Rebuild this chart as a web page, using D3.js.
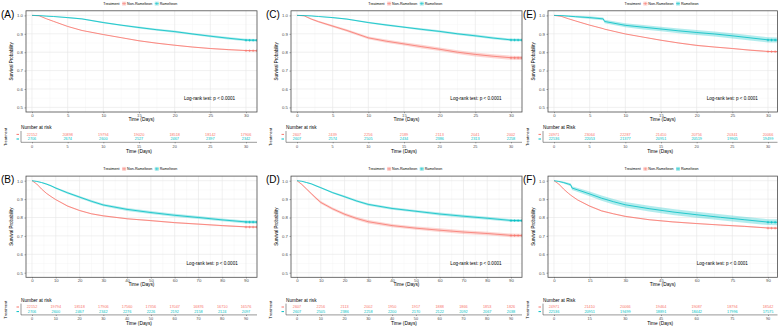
<!DOCTYPE html>
<html>
<head>
<meta charset="utf-8">
<script src="https://cdn.jsdelivr.net/npm/d3@7"></script>
<style>
  body { margin: 0; background: #fff; }
  svg { display: block; font-family: "Liberation Sans", Arial, sans-serif; }
</style>
</head>
<body>
<svg id="chart" width="778" height="331"></svg>
<script>
// ---- data ----
const groups = ['Non-Ramelteon', 'Ramelteon'];
const yTicks = [0.5, 0.6, 0.7, 0.8, 0.9, 1.0];
const ticks30 = [0, 5, 10, 15, 20, 25, 30];
const ticks90 = [0, 10, 20, 30, 40, 50, 60, 70, 80, 90];
const ticks90F = [0, 15, 30, 45, 60, 75, 90];
const censor30 = [30, 30.5, 31, 31.5];
const censor90 = [90, 91.5, 93, 94.5];

const time30 = [0, 1, 2, 3, 5, 7, 10, 12.5, 15, 17.5, 20, 22.5, 25, 27.5, 30, 31.5];
const time90 = [0, 2, 4, 6, 8, 10, 15, 20, 25, 30, 40, 50, 60, 70, 80, 90, 94.5];
const timeE = [0, 1, 2, 3, 5, 6.9, 7.1, 10, 12.5, 15, 17.5, 20, 22.5, 25, 27.5, 30, 31.5];
const timeF = [0, 2, 4, 6, 7, 7.6, 10, 15, 20, 25, 30, 40, 50, 60, 70, 80, 90, 94.5];

const nonA = [1, 0.998, 0.982, 0.968, 0.94, 0.918, 0.896, 0.879, 0.862, 0.849, 0.838, 0.828, 0.82, 0.814, 0.809, 0.808];
const ramA = [1, 0.999, 0.996, 0.994, 0.988, 0.981, 0.961, 0.947, 0.934, 0.922, 0.912, 0.899, 0.887, 0.876, 0.866, 0.865];
const nonCiA = [0, 0.001, 0.001, 0.002, 0.002, 0.002, 0.002, 0.002, 0.003, 0.003, 0.003, 0.003, 0.003, 0.003, 0.003, 0.003];
const ramCiA = [0, 0.001, 0.002, 0.002, 0.003, 0.003, 0.004, 0.004, 0.005, 0.005, 0.006, 0.006, 0.006, 0.007, 0.007, 0.007];

const nonB = [1, 0.982, 0.955, 0.932, 0.914, 0.897, 0.862, 0.838, 0.82, 0.809, 0.793, 0.783, 0.772, 0.764, 0.756, 0.749, 0.748];
const ramB = [1, 0.996, 0.99, 0.982, 0.972, 0.96, 0.934, 0.911, 0.888, 0.868, 0.844, 0.827, 0.812, 0.8, 0.787, 0.776, 0.775];
const nonCiB = [0, 0.001, 0.002, 0.002, 0.002, 0.002, 0.003, 0.003, 0.003, 0.003, 0.003, 0.003, 0.003, 0.003, 0.003, 0.003, 0.003];
const ramCiB = [0, 0.002, 0.003, 0.004, 0.004, 0.005, 0.006, 0.006, 0.007, 0.007, 0.008, 0.008, 0.008, 0.008, 0.008, 0.008, 0.008];

const nonC = [1, 0.998, 0.98, 0.966, 0.942, 0.918, 0.878, 0.86, 0.845, 0.83, 0.816, 0.8, 0.788, 0.778, 0.77, 0.769];
const ramC = [1, 0.999, 0.997, 0.994, 0.988, 0.98, 0.961, 0.948, 0.936, 0.924, 0.913, 0.9, 0.889, 0.877, 0.867, 0.866];
const nonCiC = [0, 0.002, 0.004, 0.005, 0.006, 0.007, 0.008, 0.009, 0.009, 0.01, 0.01, 0.01, 0.011, 0.011, 0.011, 0.011];
const ramCiC = [0, 0.001, 0.002, 0.002, 0.003, 0.003, 0.004, 0.005, 0.005, 0.006, 0.006, 0.006, 0.007, 0.007, 0.007, 0.007];

const nonD = [1, 0.98, 0.955, 0.93, 0.905, 0.882, 0.847, 0.818, 0.795, 0.777, 0.756, 0.742, 0.731, 0.721, 0.713, 0.703, 0.702];
const ramD = [1, 0.997, 0.99, 0.983, 0.972, 0.962, 0.935, 0.913, 0.89, 0.871, 0.849, 0.834, 0.819, 0.807, 0.796, 0.784, 0.783];
const nonCiD = [0, 0.003, 0.004, 0.005, 0.006, 0.007, 0.008, 0.008, 0.009, 0.009, 0.009, 0.009, 0.01, 0.01, 0.01, 0.01, 0.01];
const ramCiD = [0, 0.002, 0.003, 0.003, 0.004, 0.004, 0.005, 0.006, 0.006, 0.007, 0.007, 0.007, 0.008, 0.008, 0.008, 0.008, 0.008];

const nonE = [1, 0.995, 0.982, 0.97, 0.947, 0.928, 0.925, 0.899, 0.882, 0.865, 0.85, 0.837, 0.828, 0.82, 0.811, 0.804, 0.803];
const ramE = [1, 0.999, 0.996, 0.993, 0.988, 0.981, 0.967, 0.946, 0.936, 0.926, 0.916, 0.907, 0.899, 0.889, 0.878, 0.867, 0.866];
const nonCiE = [0, 0.001, 0.001, 0.002, 0.002, 0.002, 0.002, 0.002, 0.002, 0.003, 0.003, 0.003, 0.003, 0.003, 0.003, 0.003, 0.003];
const ramCiE = [0, 0.002, 0.004, 0.005, 0.007, 0.008, 0.01, 0.011, 0.012, 0.012, 0.013, 0.013, 0.013, 0.014, 0.014, 0.014, 0.014];

const nonF = [1, 0.982, 0.955, 0.932, 0.922, 0.916, 0.895, 0.862, 0.836, 0.82, 0.806, 0.788, 0.776, 0.767, 0.759, 0.752, 0.743, 0.742];
const ramF = [1, 0.996, 0.99, 0.982, 0.978, 0.96, 0.95, 0.928, 0.905, 0.886, 0.869, 0.848, 0.83, 0.815, 0.801, 0.788, 0.775, 0.774];
const nonCiF = [0, 0.001, 0.002, 0.002, 0.002, 0.002, 0.002, 0.003, 0.003, 0.003, 0.003, 0.003, 0.003, 0.003, 0.003, 0.003, 0.003, 0.003];
const ramCiF = [0, 0.003, 0.005, 0.007, 0.008, 0.01, 0.011, 0.013, 0.014, 0.015, 0.015, 0.016, 0.016, 0.016, 0.016, 0.016, 0.016, 0.016];

// number at risk
const riskNonA = [22152, 20898, 19794, 19020, 18518, 18142, 17906];
const riskRamA = [2706, 2674, 2600, 2527, 2467, 2397, 2342];
const riskNonB = [22152, 19794, 18518, 17906, 17560, 17356, 17047, 16876, 16710, 16576];
const riskRamB = [2706, 2600, 2467, 2342, 2276, 2226, 2192, 2158, 2124, 2097];
const riskNonC = [2607, 2439, 2256, 2189, 2113, 2041, 2002];
const riskRamC = [2607, 2574, 2505, 2434, 2386, 2313, 2258];
const riskNonD = [2607, 2256, 2113, 2002, 1950, 1917, 1888, 1866, 1853, 1826];
const riskRamD = [2607, 2505, 2386, 2258, 2200, 2170, 2122, 2092, 2067, 2038];
const riskNonE = [24971, 23064, 22287, 21410, 20756, 20341, 20066];
const riskRamE = [22536, 22053, 21377, 20951, 20519, 19905, 19499];
const riskNonF = [24971, 21410, 20066, 19464, 19087, 18794, 18542];
const riskRamF = [22536, 20951, 19499, 18891, 18442, 17996, 17575];

const panels = [
  { tag: '(A)', col: 0, row: 0, time: time30, non: nonA, ram: ramA, nonCi: nonCiA, ramCi: ramCiA, ticks: ticks30, censor: censor30, riskNon: riskNonA, riskRam: riskRamA, riskTitle: 'Number at risk', lrX: 21.3 },
  { tag: '(B)', col: 0, row: 1, time: time90, non: nonB, ram: ramB, nonCi: nonCiB, ramCi: ramCiB, ticks: ticks90, censor: censor90, riskNon: riskNonB, riskRam: riskRamB, riskTitle: 'Number at risk', lrX: 65 },
  { tag: '(C)', col: 1, row: 0, time: time30, non: nonC, ram: ramC, nonCi: nonCiC, ramCi: ramCiC, ticks: ticks30, censor: censor30, riskNon: riskNonC, riskRam: riskRamC, riskTitle: 'Number at risk', lrX: 21.5 },
  { tag: '(D)', col: 1, row: 1, time: time90, non: nonD, ram: ramD, nonCi: nonCiD, ramCi: ramCiD, ticks: ticks90, censor: censor90, riskNon: riskNonD, riskRam: riskRamD, riskTitle: 'Number at risk', lrX: 64.5 },
  { tag: '(E)', col: 2, row: 0, time: timeE, non: nonE, ram: ramE, nonCi: nonCiE, ramCi: ramCiE, ticks: ticks30, censor: censor30, riskNon: riskNonE, riskRam: riskRamE, riskTitle: 'Number at Risk', lrX: 21.4 },
  { tag: '(F)', col: 2, row: 1, time: timeF, non: nonF, ram: ramF, nonCi: nonCiF, ramCi: ramCiF, ticks: ticks90F, censor: censor90, riskNon: riskNonF, riskRam: riskRamF, riskTitle: 'Number at Risk', lrX: 60 }
];

// ---- layout ----
const colors = { 'Non-Ramelteon': '#F8766D', 'Ramelteon': '#00BFC4' };
const colX0 = [32, 297, 554];
const span = 214;
// plot part shared by both rows (shifted by oy), risk table anchored per row
const lay = { legend: 4.6, tag: 17.8, top: 10.8, bottom: 112 };
const rows = [
  { oy: 0, nar: 129 },
  { oy: 165.3, nar: 301.6 }
];
const riskOff = { r1: 6.7, r2: 11.3, axis: 13.3, rTick: 18.6, rTitle: 23.7 };

const svg = d3.select('#chart');

panels.forEach(drawPanel);

function drawPanel(p, i) {
  const R = rows[p.row];
  const L = {};
  Object.keys(lay).forEach(k => { L[k] = lay[k] + R.oy; });
  L.nar = R.nar;
  Object.keys(riskOff).forEach(k => { L[k] = R.nar + riskOff[k]; });

  const x0 = colX0[p.col];
  const tmax = d3.max(p.ticks);
  const x = d3.scaleLinear().domain([0, tmax]).range([x0, x0 + span]);
  const y = d3.scaleLinear().domain([0.475, 1.025]).range([L.bottom, L.top]);
  const left = x0 - 6, right = Math.min(x0 + span + 11, 777.5);

  const g = svg.append('g');

  // panel tag
  g.append('text')
    .attr('x', x0 - 31).attr('y', L.tag)
    .attr('font-size', 10).attr('fill', '#000')
    .text(p.tag);

  // grid
  const step = p.ticks[1] - p.ticks[0];
  const minorX = p.ticks.map(t => t + step / 2).filter(t => x(t) < right);
  g.append('g').selectAll('line').data(minorX).join('line')
    .attr('x1', d => x(d)).attr('x2', d => x(d))
    .attr('y1', L.top).attr('y2', L.bottom)
    .attr('stroke', '#f2f2f2').attr('stroke-width', 0.4);
  g.append('g').selectAll('line').data(yTicks.slice(0, -1).map(v => v + 0.05)).join('line')
    .attr('x1', left).attr('x2', right)
    .attr('y1', d => y(d)).attr('y2', d => y(d))
    .attr('stroke', '#f2f2f2').attr('stroke-width', 0.4);
  g.append('g').selectAll('line').data(p.ticks).join('line')
    .attr('x1', d => x(d)).attr('x2', d => x(d))
    .attr('y1', L.top).attr('y2', L.bottom)
    .attr('stroke', '#e6e6e6').attr('stroke-width', 0.6);
  g.append('g').selectAll('line').data(yTicks).join('line')
    .attr('x1', left).attr('x2', right)
    .attr('y1', d => y(d)).attr('y2', d => y(d))
    .attr('stroke', '#e6e6e6').attr('stroke-width', 0.6);

  // curves
  const clipId = 'clip' + i;
  g.append('clipPath').attr('id', clipId)
    .append('rect').attr('x', left).attr('y', L.top)
    .attr('width', right - left).attr('height', L.bottom - L.top);
  const plot = g.append('g').attr('clip-path', `url(#${clipId})`);

  const series = [
    { name: groups[0], s: p.non, ci: p.nonCi },
    { name: groups[1], s: p.ram, ci: p.ramCi }
  ];
  series.forEach(se => {
    const pts = p.time.map((t, k) => ({ t, s: se.s[k], c: se.ci[k] }));
    plot.append('path')
      .datum(pts)
      .attr('d', d3.area().x(d => x(d.t)).y0(d => y(d.s - d.c)).y1(d => y(d.s + d.c)))
      .attr('fill', colors[se.name]).attr('fill-opacity', 0.3);
  });
  series.forEach(se => {
    const pts = p.time.map((t, k) => ({ t, s: se.s[k] }));
    plot.append('path')
      .datum(pts)
      .attr('d', d3.line().x(d => x(d.t)).y(d => y(d.s)))
      .attr('fill', 'none').attr('stroke', colors[se.name]).attr('stroke-width', 0.8);
    const last = se.s[se.s.length - 1];
    plot.append('g').selectAll('path').data(p.censor).join('path')
      .attr('d', d => `M${x(d) - 1.3},${y(last)}h2.6M${x(d)},${y(last) - 1.3}v2.6`)
      .attr('stroke', colors[se.name]).attr('stroke-width', 0.6);
  });

  // panel border
  g.append('rect')
    .attr('x', left).attr('y', L.top)
    .attr('width', right - left).attr('height', L.bottom - L.top)
    .attr('fill', 'none').attr('stroke', '#4d4d4d').attr('stroke-width', 0.8);

  // axes
  const xAxis = g.append('g')
    .attr('transform', `translate(0,${L.bottom})`)
    .call(d3.axisBottom(x).tickValues(p.ticks).tickSize(1.2).tickPadding(0.6));
  const yAxis = g.append('g')
    .attr('transform', `translate(${left},0)`)
    .call(d3.axisLeft(y).tickValues(yTicks).tickFormat(d3.format('.1f')).tickSize(1.5).tickPadding(1.5));
  [xAxis, yAxis].forEach(a => {
    a.select('.domain').remove();
    a.selectAll('line').attr('stroke', '#4d4d4d').attr('stroke-width', 0.5);
    a.selectAll('text').attr('font-size', 4.3).attr('fill', '#4d4d4d').attr('font-family', null);
  });

  g.append('text')
    .attr('x', (left + right) / 2).attr('y', L.bottom + 8.8)
    .attr('text-anchor', 'middle').attr('font-size', 4.8)
    .text('Time (Days)');
  g.append('text')
    .attr('transform', `translate(${x0 - 19},${(L.top + L.bottom) / 2}) rotate(-90)`)
    .attr('text-anchor', 'middle').attr('font-size', 4.5)
    .text('Survival Probability');

  g.append('text')
    .attr('x', x(p.lrX)).attr('y', y(0.54))
    .attr('font-size', 4.6)
    .text('Log-rank test: p < 0.0001');

  // legend
  const lg = g.append('g').attr('font-size', 3.6);
  const lt = lg.append('text').attr('x', 0).attr('y', 0).text('Treatment');
  let cx = lt.node().getComputedTextLength() + 2.5;
  groups.forEach(name => {
    const c = colors[name];
    lg.append('rect').attr('x', cx).attr('y', -3).attr('width', 4).attr('height', 4)
      .attr('fill', c).attr('fill-opacity', 0.3);
    lg.append('path').attr('d', `M${cx},-1h4M${cx + 2},-2.3v2.6`)
      .attr('stroke', c).attr('stroke-width', 0.5);
    const t = lg.append('text').attr('x', cx + 5).attr('y', 0).text(name);
    cx += 5 + t.node().getComputedTextLength() + 2.5;
  });
  lg.attr('transform', `translate(${(left + right) / 2 - cx / 2},${L.legend})`);

  // risk table
  const rLeft = x0 - 11;
  g.append('text')
    .attr('x', rLeft).attr('y', L.nar)
    .attr('font-size', 4.7).text(p.riskTitle);
  const rowsData = [
    { name: groups[0], v: p.riskNon, y: L.r1 },
    { name: groups[1], v: p.riskRam, y: L.r2 }
  ];
  rowsData.forEach(r => {
    g.append('g').selectAll('text').data(r.v).join('text')
      .attr('x', (d, k) => x(p.ticks[k])).attr('y', r.y)
      .attr('text-anchor', 'middle').attr('font-size', 3.8)
      .attr('fill', colors[r.name])
      .text(d => d);
    g.append('line')
      .attr('x1', rLeft - 4.5).attr('x2', rLeft - 2)
      .attr('y1', r.y - 1.3).attr('y2', r.y - 1.3)
      .attr('stroke', colors[r.name]).attr('stroke-width', 1);
  });
  g.append('line')
    .attr('x1', rLeft).attr('x2', rLeft)
    .attr('y1', L.r1 - 4.7).attr('y2', L.axis)
    .attr('stroke', '#333').attr('stroke-width', 0.5);
  const rAxis = g.append('g')
    .attr('transform', `translate(0,${L.axis})`)
    .call(d3.axisBottom(x).tickValues(p.ticks).tickSize(1).tickFormat(() => ''));
  rAxis.select('.domain')
    .attr('d', `M${rLeft},0H${right}`).attr('stroke', '#333').attr('stroke-width', 0.5);
  rAxis.selectAll('line').attr('stroke', '#333').attr('stroke-width', 0.5);
  g.append('g').selectAll('text').data(p.ticks).join('text')
    .attr('x', d => x(d)).attr('y', L.rTick)
    .attr('text-anchor', 'middle').attr('font-size', 3.8).attr('fill', '#4d4d4d')
    .text(d => d);
  g.append('text')
    .attr('x', (rLeft + right) / 2).attr('y', L.rTitle)
    .attr('text-anchor', 'middle').attr('font-size', 4.8)
    .text('Time (Days)');
  g.append('text')
    .attr('transform', `translate(${x0 - 25},${(L.r1 + L.r2) / 2 - 1}) rotate(-90)`)
    .attr('text-anchor', 'middle').attr('font-size', 4)
    .text('Treatment');
}
</script>
</body>
</html>
